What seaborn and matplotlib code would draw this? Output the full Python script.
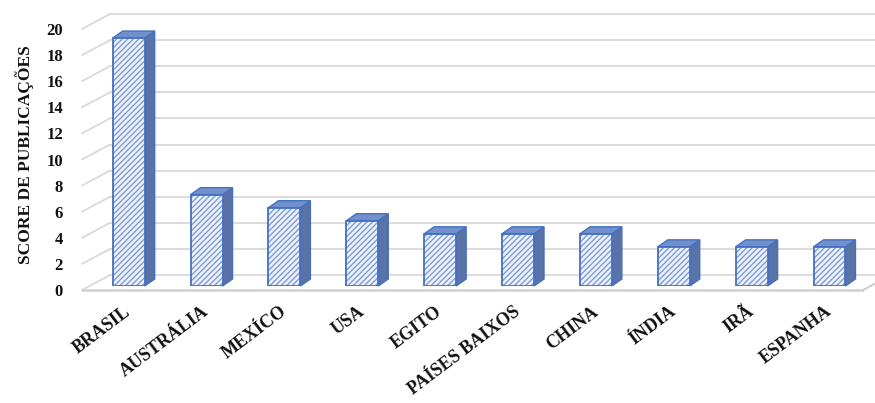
import numpy as np
import pandas as pd
import matplotlib
matplotlib.use("Agg")
import matplotlib.pyplot as plt
import seaborn as sns
from matplotlib.patches import Polygon, Rectangle
from matplotlib.transforms import ScaledTranslation

# ---- data ----
countries = ["BRASIL", "AUSTRÁLIA", "MEXÍCO", "USA", "EGITO",
             "PAÍSES BAIXOS", "CHINA", "ÍNDIA", "IRÃ", "ESPANHA"]
scores = [19, 7, 6, 5, 4, 4, 4, 3, 3, 3]
yticks = list(range(0, 21, 2))
ylabel = "SCORE DE PUBLICAÇÕES"

# ---- style ----
sns.set_theme(style="white")
plt.rcParams["font.family"] = ["Liberation Serif", "DejaVu Serif"]
plt.rcParams["hatch.linewidth"] = 1.0

FRONT = "#eef3fb"
HATCH = "#7d9bd6"
EDGE = "#4470c2"
SIDE = "#5a73a6"
TOP = "#7290cb"
GRID = "#d9d9d9"

W, H = 875, 403
fig = plt.figure(figsize=(W / 100, H / 100), dpi=100)
ax = fig.add_axes([82 / W, 1 - 286 / H, (863 - 82) / W, 261 / H])

df = pd.DataFrame({"country": countries, "score": scores})
sns.barplot(data=df, x="country", y="score", ax=ax, width=0.41,
            color=FRONT, saturation=1, edgecolor=HATCH, linewidth=0.0,
            hatch="//////", zorder=3)

x0, x1 = -0.6, 9.43
ax.set_xlim(x0, x1)
ax.set_ylim(0, 20)
for s in ax.spines.values():
    s.set_visible(False)
ax.grid(False)

# pixel -> data units
dxu = (x1 - x0) / (863 - 82)
dyu = 20 / 261

DW_X, DW_Y = 28, 15   # wall depth in px
FP_Y = -4             # front plane relative to bar plane in px

# back wall gridlines and left wall diagonals
for v in yticks:
    ax.plot([x0 + DW_X * dxu, x1 + DW_X * dxu],
            [v + (FP_Y + DW_Y) * dyu] * 2,
            color=GRID, lw=1.3, clip_on=False, zorder=1)
    ax.plot([x0, x0 + DW_X * dxu],
            [v + FP_Y * dyu, v + (FP_Y + DW_Y) * dyu],
            color=GRID, lw=1.3, clip_on=False, zorder=1)

# floor edges
ax.plot([x0, x1], [FP_Y * dyu] * 2, color="#cfcfcf", lw=1.8,
        clip_on=False, zorder=1)
ax.plot([x1, x1 + DW_X * dxu], [FP_Y * dyu, (FP_Y + DW_Y) * dyu],
        color="#cfcfcf", lw=1.5, clip_on=False, zorder=1)

# 3D faces of the bars
bx, by = 10 * dxu, 7 * dyu
for p in list(ax.patches):
    a = p.get_x()
    b = a + p.get_width()
    h = p.get_height()
    ax.add_patch(Rectangle((a, 0), b - a, h, fill=False, edgecolor=EDGE,
                           lw=1.3, zorder=3.2))
    ax.add_patch(Polygon([(b, 0), (b, h), (b + bx, h + by), (b + bx, by)],
                         closed=True, facecolor=SIDE, edgecolor=EDGE, lw=1.0,
                         zorder=2.5, clip_on=False))
    ax.add_patch(Polygon([(a, h), (b, h), (b + bx, h + by), (a + bx, h + by)],
                         closed=True, facecolor=TOP, edgecolor=EDGE, lw=1.0,
                         zorder=2.6, clip_on=False))

# y ticks
ax.set_yticks(yticks)
ax.set_yticklabels([str(v) for v in yticks], fontsize=12,
                   fontweight="bold", color="#111111")
ax.tick_params(axis="y", length=0, pad=19 * 0.72)
for lab in ax.get_yticklabels():
    lab.set_transform(lab.get_transform() +
                      ScaledTranslation(0, -4 / 100, fig.dpi_scale_trans))

# x ticks
ax.set_xticks(range(len(countries)))
ax.set_xticklabels(countries, rotation=37, ha="right",
                   rotation_mode="anchor", fontsize=13,
                   fontweight="bold", color="#111111")
ax.tick_params(axis="x", length=0, pad=17 * 0.72)
for lab in ax.get_xticklabels():
    lab.set_transform(lab.get_transform() +
                      ScaledTranslation(-5 / 100, 0, fig.dpi_scale_trans))
ax.set_xlabel("")

ax.set_ylabel(ylabel, fontsize=12.5, fontweight="bold", color="#111111")
ax.yaxis.set_label_coords((34 - 82) / (863 - 82), (286 - 155) / 261)

fig.savefig("out.png", dpi=100, facecolor="white")
